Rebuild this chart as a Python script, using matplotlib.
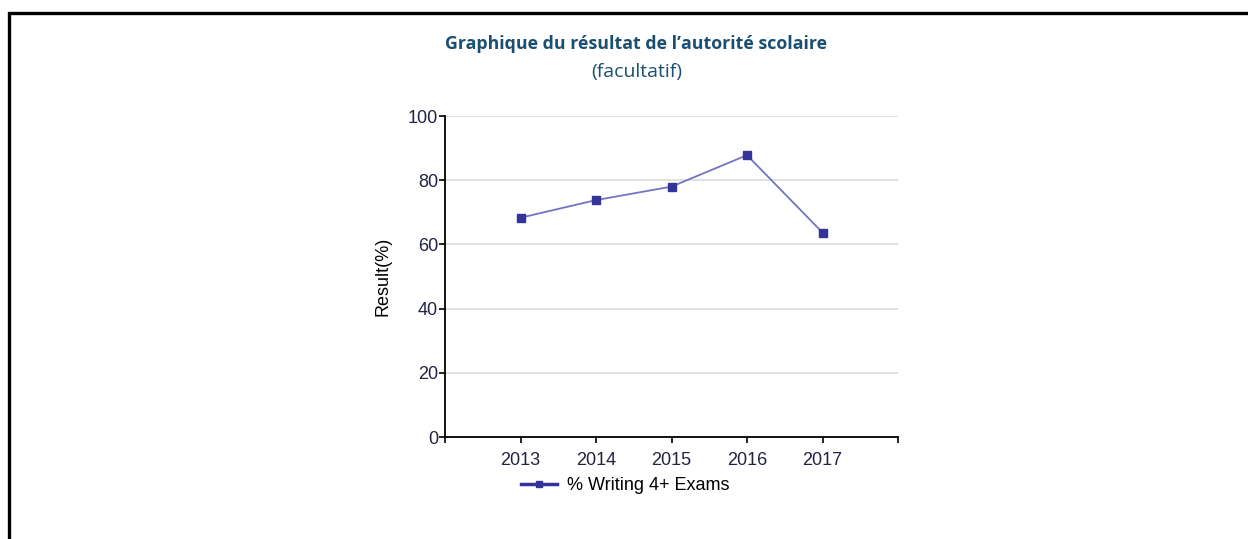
import matplotlib
matplotlib.use("Agg")
import matplotlib.pyplot as plt
from matplotlib.patches import Rectangle
from matplotlib.lines import Line2D

years = [2013, 2014, 2015, 2016, 2017]
values = [68.3, 73.8, 78.0, 87.8, 63.7]
series_name = "% Writing 4+ Exams"
yticks = [0, 20, 40, 60, 80, 100]
xticks = [2012, 2013, 2014, 2015, 2016, 2017, 2018]
xticklabels = ["", "2013", "2014", "2015", "2016", "2017", ""]
title = "Graphique du résultat de l\u2019autorité scolaire"
subtitle = "(facultatif)"

W, H = 1248, 539
fig = plt.figure(figsize=(W / 100, H / 100), dpi=100)

# outer border
fig.patches.append(Rectangle((9 / W, -0.1), 1.2, (H - 13) / H + 0.1, transform=fig.transFigure,
                             fill=False, edgecolor="black", linewidth=2.4, zorder=0))

fig.text(636 / W, 1 - 44 / H, title, ha="center", va="center", fontsize=12.8,
         fontweight="bold", color="#1b4f72", family="Open Sans")
fig.text(637 / W, 1 - 72 / H, subtitle, ha="center", va="center", fontsize=14,
         color="#1b4f72", family="Open Sans")

ax = fig.add_axes([445 / W, (H - 437) / H, (898 - 445) / W, (437 - 116) / H])
ax.plot(years, values, color="#7474c4", linewidth=1.3, marker="s", markersize=6,
        markerfacecolor="#333399", markeredgecolor="#333399", zorder=3)
ax.set_xlim(2012, 2018)
ax.set_ylim(0, 100)
ax.set_yticks(yticks)
ax.set_xticks(xticks)
ax.set_xticklabels(xticklabels)
ax.grid(axis="y", color="#dcdcdc", linewidth=1.2)
ax.set_axisbelow(True)
for s in ["top", "right"]:
    ax.spines[s].set_visible(False)
for s in ["left", "bottom"]:
    ax.spines[s].set_linewidth(1.3)
ax.tick_params(axis="both", direction="out", length=4, width=1.2, labelsize=13,
               colors="black")
for lab in ax.get_xticklabels() + ax.get_yticklabels():
    lab.set_family("Liberation Sans")
    lab.set_color("#222244")
ax.tick_params(axis="x", pad=7)
ax.tick_params(axis="y", pad=1)
ax.set_ylabel("Result(%)", fontsize=13, family="Liberation Sans", labelpad=12)

handle = Line2D([], [], color="#333399", linewidth=2.5, marker="s", markersize=4,
                markerfacecolor="#333399")
fig.legend([handle], [series_name], loc="center left", bbox_to_anchor=(521 / W, 1 - 486 / H),
           frameon=False, prop={"family": "Liberation Sans", "size": 13},
           handlelength=2.0, handletextpad=0.55, borderaxespad=0, borderpad=0)

fig.savefig("out.png", dpi=100)
